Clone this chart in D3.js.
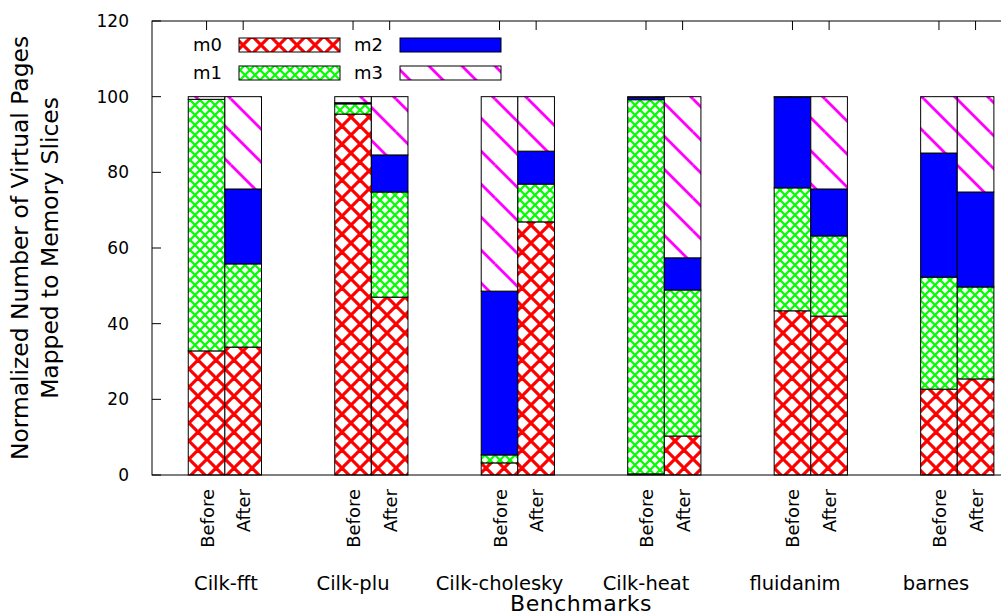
<!DOCTYPE html>
<html>
<head>
<meta charset="utf-8">
<script src="https://cdn.jsdelivr.net/npm/d3@7"></script>
<style>
body{margin:0;background:#fff;}
text{font-family:"DejaVu Sans",sans-serif;fill:#000;}
</style>
</head>
<body>
<div id="chart"></div>
<script>
const benchmarks = ["Cilk-fft","Cilk-plu","Cilk-cholesky","Cilk-heat","fluidanim","barnes"];
const phases = ["Before","After"];
const seriesNames = ["m0","m1","m2","m3"];
// values read per benchmark, Before / After
const m0Before = [32.8, 95.4, 3.2, 0.3, 43.4, 22.7];
const m1Before = [66.5, 2.7, 2.1, 98.9, 32.5, 29.6];
const m2Before = [0.0, 0.3, 43.3, 0.6, 24.0, 32.8];
const m3Before = [0.7, 1.6, 51.4, 0.2, 0.1, 14.9];
const m0After = [33.8, 47.0, 66.9, 10.3, 42.0, 25.4];
const m1After = [22.0, 27.8, 10.0, 38.6, 21.2, 24.3];
const m2After = [19.8, 9.8, 8.7, 8.5, 12.4, 25.1];
const m3After = [24.4, 15.4, 14.4, 42.6, 24.4, 25.2];
const yTicks = [0,20,40,60,80,100,120];

const width = 1001, height = 615;
const padd = {left:152, right:1010, top:21, bottom:475};
// benchmark names sit roughly under each cluster (offset in bar units)
const nameShift = [0.53, 0, 0, 0, 0.07, -0.08];

const svg = d3.select("#chart").append("svg")
	.attr("width", width)
	.attr("height", height);

//patterns
const defs = svg.append("defs");
function hatch(id, size, color, lw, cross)
{
	const p = defs.append("pattern")
		.attr("id", id)
		.attr("patternUnits", "userSpaceOnUse")
		.attr("width", size)
		.attr("height", size);
	p.append("rect").attr("width", size).attr("height", size).attr("fill", "#fff");
	const lines = [[0,0,size,size],[-size,0,0,size],[size,0,2*size,size],[0,-size,size,0],[0,size,size,2*size]];
	if (cross) lines.push([0,size,size,0],[-size,size,0,0],[size,size,2*size,0],[0,2*size,size,size],[0,0,size,-size]);
	lines.forEach(l => {
		p.append("line")
		.attr("x1", l[0]).attr("y1", l[1]).attr("x2", l[2]).attr("y2", l[3])
		.attr("stroke", color)
		.attr("stroke-width", lw);
	});
}
hatch("pm0", 18, "#ff0000", 3.2, true);
hatch("pm1", 10, "#00ff00", 2.2, true);
hatch("pm3", 33, "#ff00ff", 2.8, false);
const fills = {m0:"url(#pm0)", m1:"url(#pm1)", m2:"#0000ff", m3:"url(#pm3)"};

//scales
const xScale = d3.scaleLinear()
	.domain([-1.49, 21.94])
	.range([padd.left, padd.right]);
const yScale = d3.scaleLinear()
	.domain([0,120])
	.range([padd.bottom, padd.top]);
const bw = xScale(1) - xScale(0);

//table of bars
const bars = [];
benchmarks.forEach((b,i) => {
	phases.forEach((ph,j) => {
		const vals = ph == "Before"
			? [m0Before[i], m1Before[i], m2Before[i], m3Before[i]]
			: [m0After[i], m1After[i], m2After[i], m3After[i]];
		let acc = 0;
		vals.forEach((v,k) => {
			bars.push({bench:b, phase:ph, pos:4*i+j, series:seriesNames[k], y0:acc, y1:acc+v});
			acc += v;
		});
	});
});
const positions = d3.range(benchmarks.length).flatMap(i => [4*i, 4*i+1]);

//ticks under the bars
const tl = 9;
svg.append("g").selectAll("line")
	.data(positions).enter().append("line")
	.attr("x1", d => xScale(d)).attr("x2", d => xScale(d))
	.attr("y1", padd.bottom).attr("y2", padd.bottom - tl)
	.attr("stroke", "#000");

//bars
svg.append("g").selectAll("rect")
	.data(bars).enter().append("rect")
	.attr("x", d => xScale(d.pos - 0.5))
	.attr("y", d => yScale(d.y1))
	.attr("width", bw)
	.attr("height", d => yScale(d.y0) - yScale(d.y1))
	.attr("fill", d => fills[d.series])
	.attr("stroke", "#000")
	.attr("stroke-width", 1);

//frame
svg.append("rect")
	.attr("x", padd.left).attr("y", padd.top)
	.attr("width", padd.right - padd.left)
	.attr("height", padd.bottom - padd.top)
	.attr("fill", "none")
	.attr("stroke", "#000");

//y ticks, both sides
const yt = svg.append("g");
yt.selectAll("line.l").data(yTicks).enter().append("line")
	.attr("x1", padd.left).attr("x2", padd.left + tl)
	.attr("y1", d => yScale(d)).attr("y2", d => yScale(d))
	.attr("stroke", "#000");
yt.selectAll("line.r").data(yTicks).enter().append("line")
	.attr("x1", padd.right).attr("x2", padd.right - tl)
	.attr("y1", d => yScale(d)).attr("y2", d => yScale(d))
	.attr("stroke", "#000");
yt.selectAll("text").data(yTicks).enter().append("text")
	.attr("x", 129)
	.attr("y", d => yScale(d))
	.attr("dy", "0.36em")
	.attr("text-anchor", "end")
	.style("font-size", "17px")
	.text(d => d);

//top mirror ticks
svg.append("g").selectAll("line")
	.data(positions).enter().append("line")
	.attr("x1", d => xScale(d)).attr("x2", d => xScale(d))
	.attr("y1", padd.top).attr("y2", padd.top + tl)
	.attr("stroke", "#000");

//Before / After labels
svg.append("g").selectAll("text")
	.data(positions).enter().append("text")
	.attr("transform", d => `translate(${xScale(d)+7},489) rotate(-90)`)
	.attr("text-anchor", "end")
	.style("font-size", "18px")
	.text(d => phases[d % 4]);

//benchmark names
svg.append("g").selectAll("text")
	.data(benchmarks).enter().append("text")
	.attr("x", (d,i) => xScale(4*i + nameShift[i]))
	.attr("y", 590)
	.attr("text-anchor", "middle")
	.style("font-size", "19.5px")
	.text(d => d);

//axis titles
svg.append("text")
	.attr("x", (padd.left + padd.right)/2)
	.attr("y", 611)
	.attr("text-anchor", "middle")
	.style("font-size", "22px")
	.style("letter-spacing", "0.5px")
	.text("Benchmarks");
const yTitle = svg.append("text")
	.attr("transform", `translate(0,${(padd.top+padd.bottom)/2}) rotate(-90)`)
	.attr("text-anchor", "middle")
	.style("font-size", "23.4px");
yTitle.append("tspan").attr("x", 0).attr("y", 28).text("Normalized Number of Virtual Pages");
yTitle.append("tspan").attr("x", 0).attr("y", 58).text("Mapped to Memory Slices");

//legend
const legend = svg.append("g").attr("id", "legend");
const legendPos = {m0:[222,38], m1:[222,66], m2:[383,38], m3:[383,66]};
seriesNames.forEach(s => {
	const p = legendPos[s];
	legend.append("text")
		.attr("x", p[0]).attr("y", p[1] + 7)
		.attr("dy", "0.36em")
		.attr("text-anchor", "end")
		.style("font-size", "18px")
		.text(s);
	legend.append("rect")
		.attr("x", p[0] + 17).attr("y", p[1])
		.attr("width", 101).attr("height", 14)
		.attr("fill", fills[s])
		.attr("stroke", "#000");
});
</script>
</body>
</html>
